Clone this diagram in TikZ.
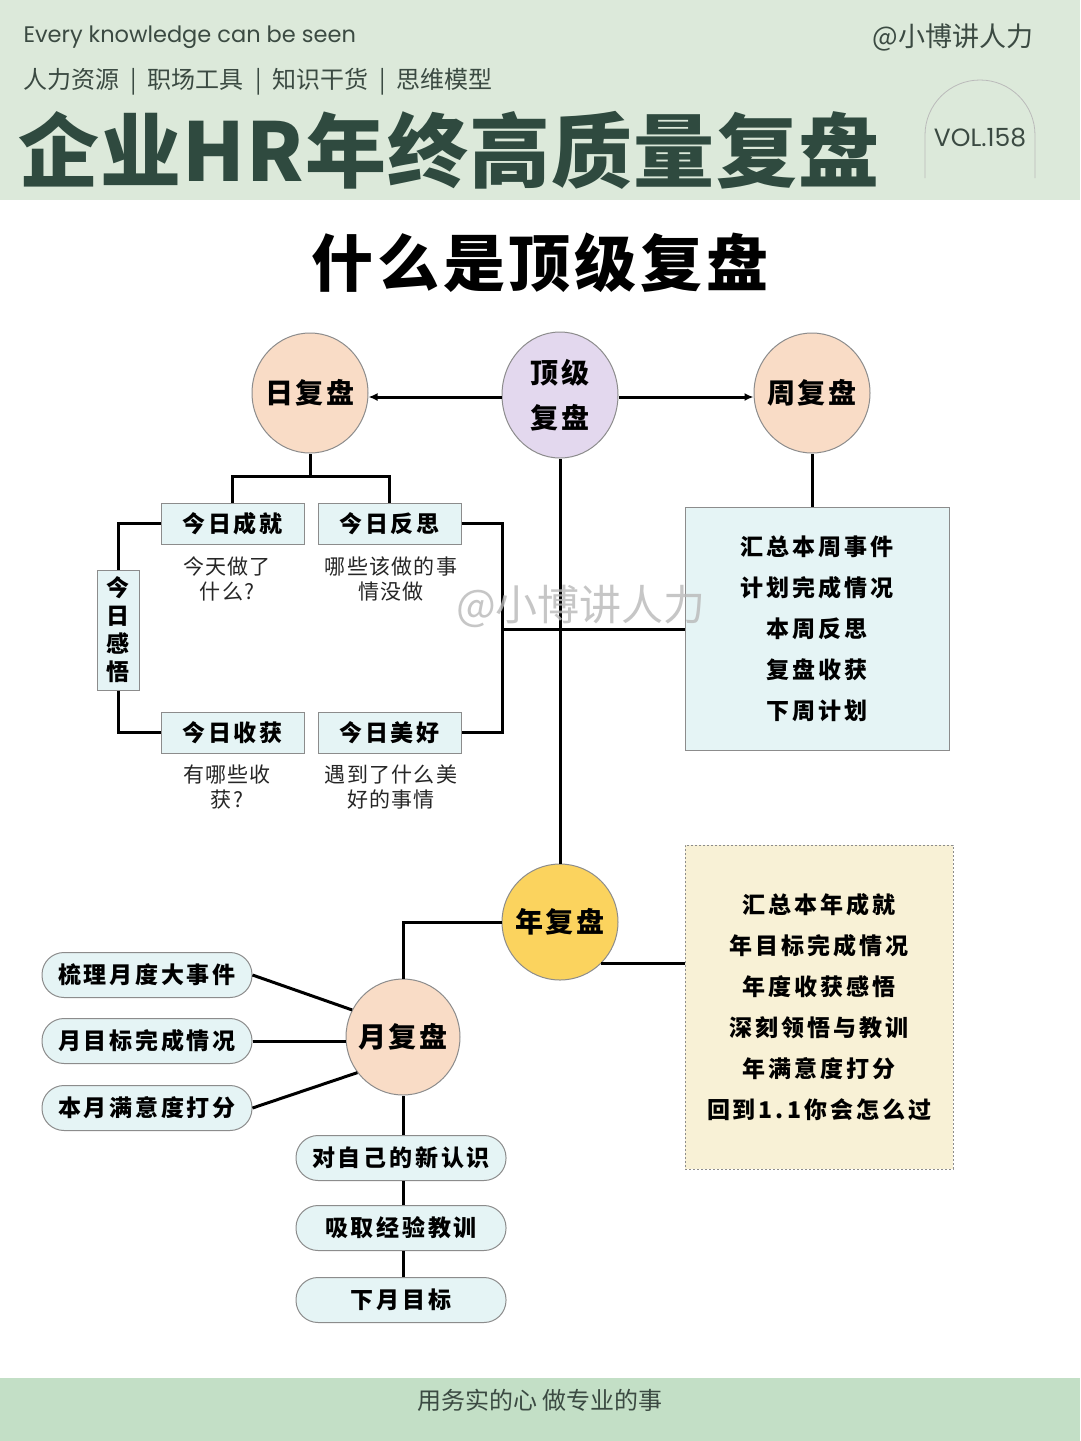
\documentclass[tikz,border=0pt]{standalone}
\usepackage{fontspec}
\setmainfont{Noto Sans CJK SC}
\newfontfamily\lat{Poppins}
\usetikzlibrary{shapes.geometric,arrows.meta}
\definecolor{hdr}{HTML}{DCE9DA}
\definecolor{ftr}{HTML}{C3DFC6}
\definecolor{dk}{HTML}{2F4A3F}
\definecolor{hdtxt}{HTML}{3B4A42}
\definecolor{peach}{HTML}{F9DCC6}
\definecolor{lav}{HTML}{E3D8EE}
\definecolor{gold}{HTML}{FBD35E}
\definecolor{cyanbox}{HTML}{E5F4F5}
\definecolor{cream}{HTML}{F8F1D6}
\definecolor{bord}{HTML}{8C8C8C}
\newcommand\lsp[1]{\addfontfeature{LetterSpace=#1}}
\tikzset{
  circ/.style={ellipse, draw=bord, line width=1pt, minimum width=116, minimum height=120, inner sep=0pt},
  clbl/.style={font=\fontsize{28}{45}\selectfont\bfseries\lsp{8}, align=center, inner sep=0pt},
  tbox/.style={rectangle, draw=bord, fill=cyanbox, line width=1pt, minimum width=143, minimum height=41, inner sep=0pt,
    font=\fontsize{23}{26}\selectfont\bfseries\lsp{12}},
  pill/.style={rectangle, rounded corners=22pt, draw=bord, fill=cyanbox, line width=1pt, minimum width=210, minimum height=45, inner sep=0pt,
    font=\fontsize{23}{26}\selectfont\bfseries\lsp{12}},
  conn/.style={line width=3pt, black},
  desc/.style={align=center, text=black!85, font=\fontsize{21}{25}\selectfont\lsp{6}},
  bigbox/.style={rectangle, line width=1pt, inner sep=0pt, align=center, font=\fontsize{23}{41}\selectfont\bfseries\lsp{13}},
}
\begin{document}
\begin{tikzpicture}[x=1pt,y=-1pt]
\useasboundingbox (0,0) rectangle (1080,1441);
\fill[white] (0,0) rectangle (1080,1441);
% header
\fill[hdr] (0,0) rectangle (1080,200);
\node[anchor=west, text=hdtxt, font=\lat\fontsize{22.5}{26}\selectfont] (tag) at (20,37) {Every knowledge can be seen};
\node[anchor=east, text=hdtxt, font=\fontsize{27}{30}\selectfont] (acct) at (1037,37) {@小博讲人力};
\node[anchor=west, text=hdtxt, font=\fontsize{24}{28}\selectfont] (cats) at (20,82) {人力资源\hspace{11pt}|\hspace{11pt}职场工具\hspace{11pt}|\hspace{11pt}知识干货\hspace{11pt}|\hspace{11pt}思维模型};
\node[anchor=west, text=dk, font=\fontsize{81}{84}\selectfont\bfseries\lsp{1.5}, inner sep=0pt] (title) at (18,150) {企业HR年终高质量复盘};
\draw[bord!60, line width=0.8pt] (925,178) -- (925,135) arc[start angle=180, end angle=360, radius=55] -- (1035,178);
\node[text=hdtxt, font=\lat\fontsize{25}{28}\selectfont] (vol) at (980,138) {VOL.158};
% subtitle
\node[font=\fontsize{62}{66}\selectfont\bfseries\lsp{6}, text=black] (sub) at (540,263) {什么是顶级复盘};
% footer
\fill[ftr] (0,1378) rectangle (1080,1441);
\node[text=hdtxt, font=\fontsize{24}{26}\selectfont] (foot) at (540,1400) {用务实的心 做专业的事};

% circles
\node[circ, fill=lav, minimum height=126, label={[clbl]center:顶级\\复盘}] (top) at (560,395) {};
\node[circ, fill=peach, label={[clbl]center:日复盘}] (day) at (310,393) {};
\node[circ, fill=peach, label={[clbl]center:周复盘}] (week) at (812,393) {};
\node[circ, fill=gold, minimum height=116, label={[clbl]center:年复盘}] (year) at (560,922) {};
\node[circ, fill=peach, minimum width=114, minimum height=116, label={[clbl]center:月复盘}] (month) at (403,1037) {};

% daily boxes
\node[tbox] (cj) at (232.5,523.5) {今日成就};
\node[tbox] (fs) at (389.5,523.5) {今日反思};
\node[tbox] (sh) at (232.5,732.5) {今日收获};
\node[tbox] (mh) at (389.5,732.5) {今日美好};
\node[tbox, minimum width=42, minimum height=120, align=center, font=\fontsize{23}{28}\selectfont\bfseries] (gw) at (118,630) {今\\日\\感\\悟};
\node[desc] (d1) at (227,579) {今天做了\\什么?};
\node[desc] (d2) at (391,579) {哪些该做的事\\情没做};
\node[desc] (d3) at (227,787) {有哪些收\\获?};
\node[desc] (d4) at (391,787) {遇到了什么美\\好的事情};

% weekly box
\node[bigbox, draw=bord, fill=cyanbox, minimum width=264, minimum height=243] (wk) at (817,628.5)
  {汇总本周事件\\计划完成情况\\本周反思\\复盘收获\\下周计划};
% yearly box
\node[bigbox, draw=bord, dashed, dash pattern=on 2pt off 2pt, fill=cream, minimum width=268, minimum height=324] (yr) at (819,1007)
  {汇总本年成就\\年目标完成情况\\年度收获感悟\\深刻领悟与教训\\年满意度打分\\回到1.1你会怎么过};

% monthly pills
\node[pill] (p1) at (147,975) {梳理月度大事件};
\node[pill] (p2) at (147,1041) {月目标完成情况};
\node[pill] (p3) at (147,1108) {本月满意度打分};
\node[pill] (q1) at (401,1158) {对自己的新认识};
\node[pill] (q2) at (401,1228) {吸取经验教训};
\node[pill] (q3) at (401,1300) {下月目标};

% connectors
\coordinate (dj) at (310,476);
\coordinate (rj) at (502,629);
\draw[conn, -{Latex[length=9pt,width=8pt]}] (top.west |- 0,397) -- (day.east |- 0,397);
\draw[conn, -{Latex[length=9pt,width=8pt]}] (top.east |- 0,397) -- (week.west |- 0,397);
\draw[conn] (day.south) -- (dj);
\draw[conn] (cj.north) |- (dj) -| (fs.north);
\draw[conn] (cj.west) -| (gw.north);
\draw[conn] (gw.south) |- (sh.west);
\draw[conn] (fs.east) -| (rj) |- (mh.east);
\draw[conn] (rj) -- (wk.west |- rj);
\draw[conn] (top.south) -- (year.north);
\draw[conn] (week.south) -- (week.south |- wk.north);
\draw[conn] (year.west) -| (month.north);
\draw[conn] (year.-45) -- (yr.west |- year.-45);
\draw[conn] (p1.east) -- (month.152);
\draw[conn] (p2.east) -- (month.west |- p2.east);
\draw[conn] (p3.east) -- (month.218);
\draw[conn] (month.south) -- (month.south |- q1.north);
\draw[conn] (month.south |- q1.south) -- (month.south |- q2.north);
\draw[conn] (month.south |- q2.south) -- (month.south |- q3.north);

% watermark
\node[text=black!28, opacity=0.8, font=\fontsize{42}{46}\selectfont] (wm) at (581,606) {@小博讲人力};
\end{tikzpicture}
\end{document}
